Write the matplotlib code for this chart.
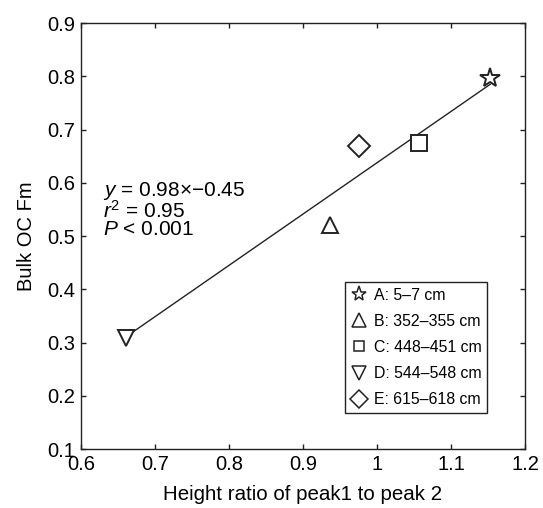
import matplotlib
matplotlib.use("Agg")
import matplotlib.pyplot as plt
from matplotlib.lines import Line2D

plt.rcParams['font.family'] = ['Liberation Sans', 'DejaVu Sans']
plt.rcParams['mathtext.fontset'] = 'custom'
plt.rcParams['mathtext.rm'] = 'Liberation Sans'
plt.rcParams['mathtext.it'] = 'Liberation Sans:italic'

# samples: height ratio (x) vs bulk OC Fm (y)
labels = ['A: 5\u20137 cm', 'B: 352\u2013355 cm', 'C: 448\u2013451 cm',
          'D: 544\u2013548 cm', 'E: 615\u2013618 cm']
ratio = [1.153, 0.936, 1.057, 0.661, 0.975]
fm = [0.797, 0.521, 0.675, 0.308, 0.669]
markers = ['*', '^', 's', 'v', 'D']
msizes = [14.5, 12, 11.5, 12, 11]
leg_sizes = [11, 9.5, 7.5, 9.5, 9]

# regression line as drawn
fit_x = [0.661, 1.153]
fit_y = [0.311, 0.785]

fit_text = '$y$ = 0.98\u00d7\u22120.45\n$r^2$ = 0.95\n$P$ < 0.001'

xticks = [0.6, 0.7, 0.8, 0.9, 1.0, 1.1, 1.2]
xticklabels = ['0.6', '0.7', '0.8', '0.9', '1', '1.1', '1.2']
yticks = [0.1, 0.2, 0.3, 0.4, 0.5, 0.6, 0.7, 0.8, 0.9]

ink = '#222222'

fig = plt.figure(figsize=(5.43, 5.08), dpi=100)
ax = fig.add_axes([0.1492, 0.1161, 0.8177, 0.8386])

ax.plot(fit_x, fit_y, color=ink, lw=1.0, zorder=2)
for x, y, m, ms in zip(ratio, fm, markers, msizes):
    ax.plot(x, y, marker=m, ms=ms, mfc='white', mec=ink, mew=1.4,
            ls='none', zorder=3)

ax.set_xlim(0.6, 1.2)
ax.set_ylim(0.1, 0.9)
ax.set_xticks(xticks)
ax.set_xticklabels(xticklabels)
ax.set_yticks(yticks)
ax.set_yticklabels(['%.1f' % v for v in yticks])
ax.tick_params(direction='in', length=3.6, width=1, top=True, right=True,
               labelsize=14.5, pad=4.5, color=ink)
for sp in ax.spines.values():
    sp.set_linewidth(1.0)
    sp.set_color(ink)

ax.set_xlabel('Height ratio of peak1 to peak 2', fontsize=14.8, labelpad=7.5)
ax.set_ylabel('Bulk OC Fm', fontsize=14.5, labelpad=8)

ax.text(0.050, 0.631, fit_text, transform=ax.transAxes,
        fontsize=15, va='top', ha='left', linespacing=0.87)

handles = [Line2D([], [], marker=m, ms=s, mfc='white', mec=ink, mew=1.1,
                  ls='none') for m, s in zip(markers, leg_sizes)]
leg = ax.legend(handles, labels, loc='lower right',
                bbox_to_anchor=(0.914, 0.0845),
                borderaxespad=0, fancybox=False, edgecolor=ink,
                framealpha=1, fontsize=11.4,
                handlelength=1.0, handletextpad=0.45, labelspacing=0.71,
                borderpad=0.35)
leg.get_frame().set_linewidth(1.0)

fig.savefig('out.png', dpi=100)
